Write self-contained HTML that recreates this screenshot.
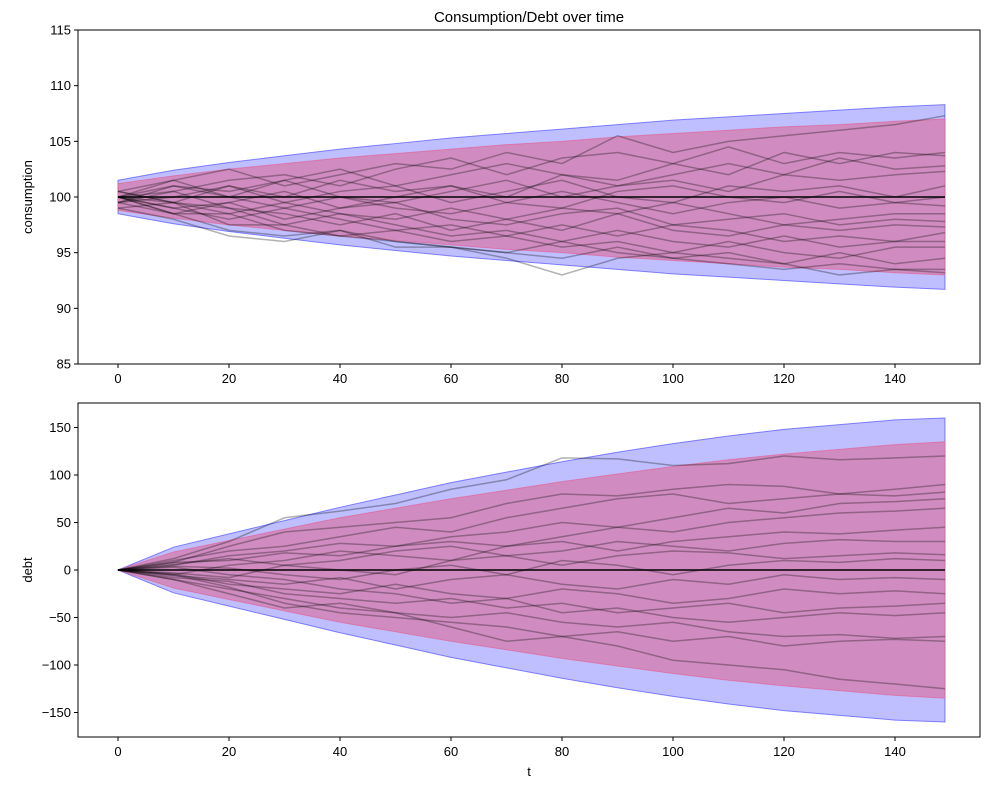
<!DOCTYPE html>
<html><head><meta charset="utf-8"><style>
body{margin:0;background:#fff;font-family:"Liberation Sans",sans-serif}
svg text{font-family:"Liberation Sans",sans-serif;font-size:13px;fill:#000}
</style></head><body>
<svg id="fig" width="989" height="790" xmlns="http://www.w3.org/2000/svg"></svg>
<script>
// band sample times
const bandT=[0,10,20,30,40,50,60,70,80,90,100,110,120,130,140,149];
const cBlueHi=[101.5,102.4,103.1,103.7,104.3,104.8,105.3,105.7,106.1,106.5,106.9,107.2,107.5,107.8,108.1,108.3];
const cBlueLo=[98.5,97.6,96.9,96.3,95.7,95.2,94.7,94.3,93.9,93.5,93.1,92.8,92.5,92.2,91.9,91.7];
const cRedHi=[101.2,101.9,102.5,103.0,103.5,103.9,104.3,104.7,105.0,105.4,105.7,106.0,106.3,106.5,106.8,107.0];
const cRedLo=[98.8,98.1,97.5,97.0,96.5,96.1,95.7,95.3,95.0,94.6,94.3,94.0,93.7,93.5,93.2,93.0];
const dBlue=[0,24,38,52,66,79,92,103,114,124,133,141,148,153,158,160];
const dRed=[0,19,31,43,55,65,75,84,93,101,109,116,122,127,132,135];
// paths sampled at t = 0,10,...,140,149
const pathT=[0,10,20,30,40,50,60,70,80,90,100,110,120,130,140,149];
const cPaths=[
[100,101.5,102.5,101,102,103,102.5,104,103,105.5,104,105,105.5,106,106.5,107.3],
[100,100.5,101.5,102,101,102.5,103.5,102,103.5,104,103,104.5,103,104,103.5,104],
[99.5,101,100.5,101.5,102.5,101,102,103,102,101.5,103,102,104,103,104,103.7],
[100.5,99.5,101,100,101.5,100.5,101,100,102,101,102,103,102,103.5,102.5,102.8],
[100,101,100,101.5,100,99.5,100.5,101.5,100,101,101.5,100.5,102,101.5,102,102.3],
[99.5,100,101,99.5,100.5,101,99.5,100.5,101.5,100,99.5,101,100.5,101,100,101],
[100,99,99.5,100.5,99,100,101,99.5,99,100.5,101,100,99.5,100.5,99.5,100],
[100.5,101.5,100,99,100,99,98.5,99.5,100.5,99.5,98.5,99.5,100,99,99.5,99.2],
[99,99.5,98.5,99.5,98.5,98,99,98,99,98.5,99.5,98.5,97.5,98,98.5,98.5],
[100,98.5,99.5,98,99,99.5,98,97.5,98.5,99,97.5,98,98.5,97.5,98,97.8],
[99.5,100.5,99,98.5,97.5,98.5,97,98,97,98.5,97,96.5,97.5,97,97.5,97.3],
[100,99,98,99,98,97,97.5,96.5,97.5,96.5,97.5,97,96,96.5,96,96.8],
[100.5,99.5,99,97.5,98.5,97.5,96.5,97,96,97,96,95.5,96.5,95.5,96,96],
[99.5,98.5,98.5,97,96.5,97,96,96.5,95.5,96,95,96,95,94.5,95.5,95.5],
[100,99.5,97.5,97.5,96.5,96,95.5,95,96,95,94.5,95,94,95,94,94.5],
[100,98.5,97,96.5,97,95.5,95.5,95,94.5,95.5,94.5,94,93.5,94,93.5,93.5],
[99,98,96.5,96,97,96,95.5,94.5,93,94.5,95,94.5,94,93,93.5,93.2]];
const dPaths=[
[0,12,30,55,62,70,85,95,118,117,110,112,120,116,118,120],
[0,8,25,40,45,50,55,70,80,78,85,90,88,80,85,90],
[0,10,20,25,35,45,40,55,65,75,80,70,75,80,78,82],
[0,5,15,20,28,25,35,40,50,45,55,65,60,70,72,75],
[0,8,10,18,15,25,30,25,35,45,40,50,55,60,62,65],
[0,-5,5,10,20,15,10,25,30,20,30,35,40,38,42,45],
[0,6,12,5,10,20,25,15,20,30,25,20,28,32,30,30],
[0,-3,-8,5,0,-5,10,15,5,15,20,18,12,15,18,16],
[0,4,2,-5,-10,0,5,-5,10,5,-5,5,10,8,12,10],
[0,-6,-10,-15,-8,-20,-10,-5,-15,-20,-10,-15,-5,-10,-8,-10],
[0,-4,-15,-20,-25,-15,-25,-30,-20,-25,-35,-30,-20,-25,-22,-25],
[0,-8,-12,-25,-30,-35,-30,-40,-35,-45,-40,-35,-45,-40,-38,-35],
[0,3,-5,-10,-20,-25,-35,-30,-45,-40,-50,-55,-50,-45,-48,-45],
[0,-10,-20,-30,-40,-45,-50,-45,-55,-60,-55,-65,-70,-68,-72,-70],
[0,-5,-18,-35,-45,-50,-55,-60,-70,-65,-75,-70,-80,-75,-73,-75],
[0,-10,-25,-40,-35,-45,-60,-75,-70,-80,-95,-100,-105,-115,-120,-125]];
const xTicks=[0,20,40,60,80,100,120,140];
const cTicks=[85,90,95,100,105,110,115];
const dTicks=[-150,-100,-50,0,50,100,150];

const NS="http://www.w3.org/2000/svg",svg=document.getElementById('fig');
function mk(tag,attrs,parent){const e=document.createElementNS(NS,tag);for(const k in attrs)e.setAttribute(k,attrs[k]);(parent||svg).appendChild(e);return e;}
const L=78,R=980;
const xs=t=>118+(t)*(895-118)/140;
const fmt=v=>String(v).replace('-','\u2212');
function panel(top,bot,ymin,ymax,hi1,lo1,hi2,lo2,paths,ticks,ylabel,name,mean){
  const ys=v=>bot-(v-ymin)/(ymax-ymin)*(bot-top);
  const g=mk('g',{});
  
  
  function band(hi,lo,fill,stroke,nm){
    let d='M'+bandT.map((t,i)=>xs(t)+','+ys(hi[i])).join('L')+'L'+bandT.slice().reverse().map((t,j)=>xs(t)+','+ys(lo[bandT.length-1-j])).join('L')+'Z';
    const p=mk('path',{d:d,fill:fill,stroke:stroke,'stroke-width':1},g);
    
    
  }
  band(hi1,lo1,'rgb(191,191,255)','rgba(80,80,255,0.7)',name+'-outer-band');
  band(hi2,lo2,'rgb(208,140,192)','rgba(230,90,140,0.6)',name+'-inner-band');
  paths.forEach((p,k)=>{
    const pl=mk('polyline',{points:pathT.map((t,i)=>xs(t)+','+ys(p[i])).join(' '),fill:'none',stroke:'rgba(0,0,0,0.3)','stroke-width':1.5},g);
    
    
  });
  const m=mk('line',{x1:xs(0),x2:xs(149),y1:ys(mean),y2:ys(mean),stroke:'#000','stroke-width':1.5},g);
  
  
  const fr=mk('rect',{x:L,y:top,width:R-L,height:bot-top,fill:'none',stroke:'#000','stroke-width':1},g);
  
  
  ticks.forEach(v=>{
    mk('line',{x1:L-4,x2:L,y1:ys(v),y2:ys(v),stroke:'#000'},g);
    const t=mk('text',{x:L-7,y:ys(v)+4.5,'text-anchor':'end'},g);t.textContent=fmt(v);
    
    
  });
  xTicks.forEach(v=>{
    mk('line',{x1:xs(v),x2:xs(v),y1:bot,y2:bot+4,stroke:'#000'},g);
    const t=mk('text',{x:xs(v),y:bot+19,'text-anchor':'middle'},g);t.textContent=v;
    
    
  });
  const yl=mk('text',{x:0,y:0,'text-anchor':'middle',transform:`translate(32,${(top+bot)/2}) rotate(-90)`},g);
  yl.textContent=ylabel;
  
  
}
panel(30,364,85,115,cBlueHi,cBlueLo,cRedHi,cRedLo,cPaths,cTicks,'consumption','consumption',100);
const negB=dBlue.map(v=>-v),negR=dRed.map(v=>-v);
const dTop=403,dBot=737,d0=570,k=0.95;
panel(dTop,dBot,-(dBot-d0)/k,(d0-dTop)/k,dBlue,negB,dRed,negR,dPaths,dTicks,'debt','debt',0);
const ti=mk('text',{x:529,y:22,'text-anchor':'middle',style:'font-size:15px'});ti.textContent='Consumption/Debt over time';


const xl=mk('text',{x:529,y:776,'text-anchor':'middle'});xl.textContent='t';


</script>
</body></html>
